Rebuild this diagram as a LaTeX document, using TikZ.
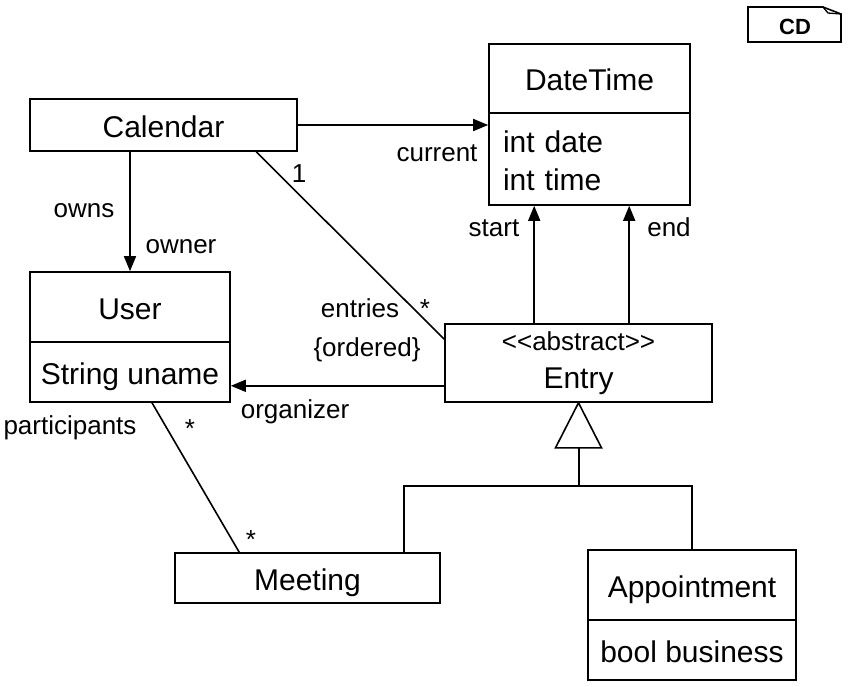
\documentclass[tikz,border=0pt]{standalone}
\usepackage{fontspec}
\setmainfont{Liberation Sans}
\usetikzlibrary{arrows.meta,calc}
\begin{document}
\begin{tikzpicture}[x=1pt,y=-1pt,
  line width=1.6pt,
  box/.style={draw,rectangle,inner sep=0pt,font=\fontsize{30}{36}\selectfont},
  onebox/.style={box,text height=26pt,text depth=2pt},
  lbl/.style={inner sep=0pt,anchor=base,font=\fontsize{26}{30}\selectfont},
  arr/.style={-{Triangle[length=15pt,width=12pt]}},
]
\useasboundingbox (0,0) rectangle (850,686);
% CD tag
\draw (748,7) -- (748,42) -- (841,42) -- (841,14) -- (823,7) -- cycle;
\draw[line width=1.3pt] (823,7) -- (828,13) -- (841,14);
\node[inner sep=0pt,font=\fontsize{22}{26}\selectfont\bfseries] (cd) at (795,27) {CD};
% classes
\node[onebox,minimum width=201pt,minimum height=69pt] (dt) at (589.5,78.5) {DateTime};
\node[box,minimum width=201pt,minimum height=92pt,align=left,text width=173pt,
  font=\fontsize{30}{38}\selectfont] (dtattr) at (589.5,159) {\rule{0pt}{25pt}int date\\int time};
\node[onebox,minimum width=267pt,minimum height=52pt] (cal) at (163.5,125) {Calendar};
\node[onebox,minimum width=200pt,minimum height=70pt] (user) at (130,307) {User};
\node[onebox,minimum width=200pt,minimum height=60pt] (userattr) at (130,372) {String uname};
\node[box,minimum width=267pt,minimum height=78pt,align=center,
  font=\fontsize{30}{38}\selectfont] (entry) at (578.5,363)
  {{\fontsize{26}{38}\selectfont <\kern0pt<abstract>\kern0pt>}\\Entry};
\node[onebox,minimum width=265pt,minimum height=50pt] (meet) at (307.5,578) {Meeting};
\node[onebox,minimum width=208pt,minimum height=70pt] (app) at (692,585) {Appointment};
\node[onebox,minimum width=208pt,minimum height=60pt] (appattr) at (692,650) {bool business};
% associations
\draw[arr] (cal.east) -- (cal.east -| dtattr.west);
\draw[arr] (user.north |- cal.south) -- (user.north);
\draw ($(cal.south west)+(227,0)$) -- ($(entry.north west)+(0,16)$);
\coordinate (e1) at ($(entry.south west)+(0,-17)$);
\draw[arr] (e1) -- (e1 -| userattr.east);
\draw ($(userattr.south)+(22,0)$) -- ($(meet.north west)+(65,0)$);
\coordinate (s1) at ($(entry.north west)+(90,0)$);
\coordinate (s2) at ($(entry.north west)+(185,0)$);
\draw[arr] (s1) -- (s1 |- dtattr.south);
\draw[arr] (s2) -- (s2 |- dtattr.south);
% generalization
\draw (entry.south) -- ++(-23,45) -- ++(46,0) -- cycle;
\coordinate (tb) at ($(entry.south)+(0.5,45)$);
\draw (tb) -- ++(0,38) coordinate (j);
\draw ($(meet.north west)+(230,0)$) |- (j) -| (app.north);
% labels
\node[lbl] (l1) at (437,161) {current};
\node[lbl] (l2) at (84,217) {owns};
\node[lbl] (l3) at (181,253) {owner};
\node[lbl] (l4) at (299,182) {1};
\node[lbl] (l5) at (494,236) {start};
\node[lbl] (l6) at (669,236) {end};
\node[lbl] (l7) at (360,317) {entries};
\node[lbl] (l8) at (425,317) {*};
\node[lbl] (l9) at (367,356) {\{ordered\}};
\node[lbl] (l10) at (295,418) {organizer};
\node[lbl] (l11) at (70,434) {participants};
\node[lbl] (l12) at (190,437) {*};
\node[lbl] (l13) at (251,548) {*};
\end{tikzpicture}
\end{document}
